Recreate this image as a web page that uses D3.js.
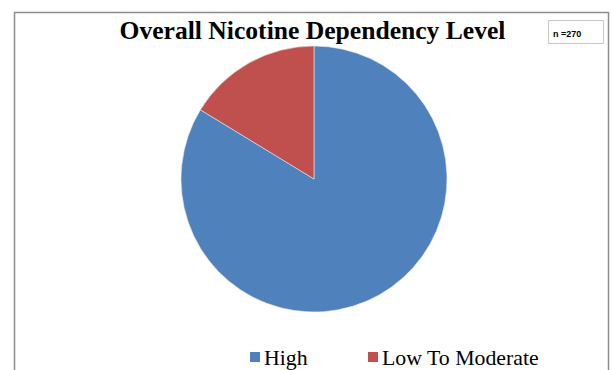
<!DOCTYPE html>
<html>
<head>
<meta charset="utf-8">
<script src="https://cdn.jsdelivr.net/npm/d3@7"></script>
<style>
  body { margin: 0; background: #fff; }
  svg { display: block; }
</style>
</head>
<body>
<div id="chart"></div>
<script>
let categories = ["High", "Low To Moderate"];
let counts = [226, 44];
let colors = ["#4F81BD", "#C0504D"];
let sampleLabel = "n =270";

let width = 612;
let height = 370;

let svg = d3.select("#chart")
            .append("svg")
            .attr("width", width)
            .attr("height", height);

// outer chart border (bottom runs off the page)
svg.append("rect")
   .attr("x", 14.5)
   .attr("y", 12.5)
   .attr("width", 594)
   .attr("height", 400)
   .attr("fill", "none")
   .attr("stroke", "#8c8c8c")
   .attr("stroke-width", 1.5);

// title
svg.append("text")
   .attr("x", 312.5)
   .attr("y", 39)
   .attr("text-anchor", "middle")
   .style("font-family", "'Liberation Serif', 'Times New Roman', serif")
   .style("font-weight", "bold")
   .style("font-size", "25.6px")
   .text("Overall Nicotine Dependency Level");

// n box
svg.append("rect")
   .attr("x", 548.5)
   .attr("y", 20.5)
   .attr("width", 55)
   .attr("height", 23)
   .attr("fill", "#fff")
   .attr("stroke", "#c8c8c8");

svg.append("text")
   .attr("x", 553)
   .attr("y", 37)
   .style("font-family", "'Liberation Sans', Arial, sans-serif")
   .style("font-weight", "bold")
   .style("font-size", "9px")
   .text(sampleLabel);

// pie
let pie = d3.pie().sort(null);
let arc = d3.arc().innerRadius(0).outerRadius(133);

let g = svg.append("g")
           .attr("transform", "translate(314, 179)");

g.selectAll("path")
 .data(pie(counts))
 .enter()
 .append("path")
 .attr("d", arc)
 .attr("fill", (d, i) => colors[i])
 .attr("stroke", "#e8e8e8")
 .attr("stroke-width", 0.6);

// legend
let legendX = d3.scaleOrdinal()
                .domain(categories)
                .range([250, 368]);

let legend = svg.selectAll(".legend")
                .data(categories)
                .enter()
                .append("g")
                .attr("class", "legend")
                .attr("transform", d => `translate(${legendX(d)}, 352)`);

legend.append("rect")
      .attr("width", 10)
      .attr("height", 10)
      .attr("fill", (d, i) => colors[i]);

legend.append("text")
      .attr("x", 14)
      .attr("y", 13)
      .style("font-family", "'Liberation Serif', 'Times New Roman', serif")
      .style("font-size", "21.8px")
      .text(d => d);
</script>
</body>
</html>
